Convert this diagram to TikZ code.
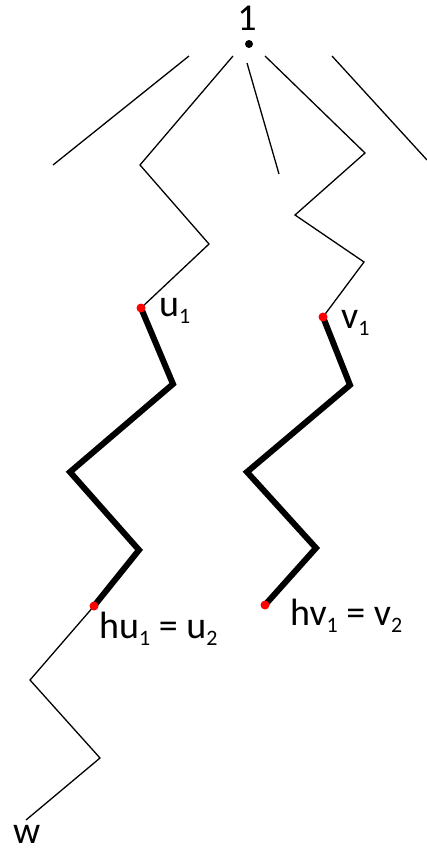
\documentclass[tikz,border=0pt]{standalone}
\usepackage{fontspec}
\setmainfont{Carlito}
\usetikzlibrary{positioning}
\newcommand\idx[1]{\raisebox{-0.2em}{\fontsize{22}{22}\selectfont #1}}

\begin{document}
\begin{tikzpicture}[
    x=1pt, y=-1pt,
    font=\fontsize{38}{40}\selectfont,
    thinedge/.style={line width=1.3pt, line join=miter},
    thickedge/.style={line width=6pt, line join=miter},
    vertex/.style={circle, fill=red, inner sep=0pt, minimum size=9pt},
    rootdot/.style={circle, fill=black, inner sep=0pt, minimum size=8pt},
    lbl/.style={inner sep=0pt, anchor=base west},
  ]
  \useasboundingbox (0,0) rectangle (427,852);

  \coordinate (root) at (249,44);
  \coordinate (a1) at (189,56);   \coordinate (a2) at (53,165);
  \coordinate (b1) at (233,56);   \coordinate (b2) at (140,165);
  \coordinate (b3) at (209,244);  \coordinate (u1) at (141,308);
  \coordinate (c1) at (247,63);   \coordinate (c2) at (279,174);
  \coordinate (d1) at (265,56);   \coordinate (d2) at (365,153);
  \coordinate (d3) at (295,215);  \coordinate (d4) at (364,262);
  \coordinate (v1) at (323,317);
  \coordinate (e1) at (332,56);   \coordinate (e2) at (427,160);
  \coordinate (p1) at (173,384);  \coordinate (p2) at (70,472);
  \coordinate (p3) at (139,550);  \coordinate (u2) at (94,606);
  \coordinate (q1) at (350,385);  \coordinate (q2) at (247,472);
  \coordinate (q3) at (316,548);  \coordinate (v2) at (265,605);
  \coordinate (r1) at (30,680);   \coordinate (r2) at (100,758);
  \coordinate (w) at (26,820);

  \draw[thinedge] (a1) -- (a2);
  \draw[thinedge] (b1) -- (b2) -- (b3) -- (u1);
  \draw[thinedge] (c1) -- (c2);
  \draw[thinedge] (d1) -- (d2) -- (d3) -- (d4) -- (v1);
  \draw[thinedge] (e1) -- (e2);
  \draw[thickedge] (u1) -- (p1) -- (p2) -- (p3) -- (u2);
  \draw[thickedge] (v1) -- (q1) -- (q2) -- (q3) -- (v2);
  \draw[thinedge] (u2) -- (r1) -- (r2) -- (w);

  \node[rootdot] (rootdot) at (root) {};
  \node[vertex] (u1dot) at (u1) {};
  \node[vertex] (v1dot) at (v1) {};
  \node[vertex] (u2dot) at (u2) {};
  \node[vertex] (v2dot) at (v2) {};

  \node[lbl, anchor=base] (rootlab) at ([xshift=-2pt,yshift=14pt]root) {1};
  \node[lbl] (u1lab) at ([xshift=18pt,yshift=-8pt]u1) {u\idx{1}};
  \node[lbl] (v1lab) at ([xshift=18pt,yshift=-11pt]v1) {v\idx{1}};
  \node[lbl] (u2lab) at ([xshift=5pt,yshift=-32pt]u2) {hu\idx{1} = u\idx{2}};
  \node[lbl] (v2lab) at ([xshift=25pt,yshift=-20pt]v2) {hv\idx{1} = v\idx{2}};
  \node[lbl] (wlab) at ([xshift=-13pt,yshift=-23pt]w) {w};
\end{tikzpicture}
\end{document}
